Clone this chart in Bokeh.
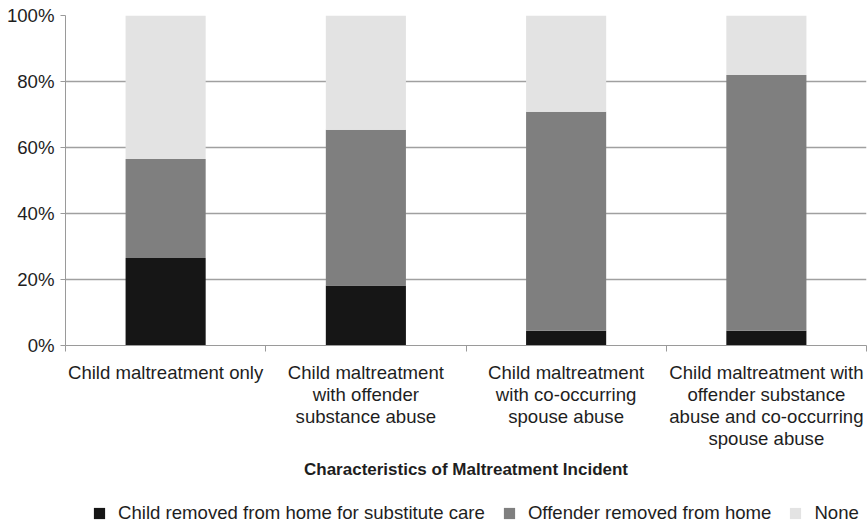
from bokeh.plotting import figure
from bokeh.layouts import column
from bokeh.models import (Range1d, FixedTicker, PrintfTickFormatter, Legend, LegendItem,
                          ColumnDataSource)
from bokeh.embed import file_html
from bokeh.resources import INLINE

categories = [
    "Child maltreatment only",
    "Child maltreatment\nwith offender\nsubstance abuse",
    "Child maltreatment\nwith co-occurring\nspouse abuse",
    "Child maltreatment with\noffender substance\nabuse and co-occurring\nspouse abuse",
]
series_names = ["Child removed from home for substitute care", "Offender removed from home", "None"]
child_removed = [26.5, 18.2, 4.5, 4.5]
offender_removed = [30.0, 47.2, 66.3, 77.5]
none_vals = [43.5, 34.6, 29.2, 18.0]
y_ticks = [0, 20, 40, 60, 80, 100]
colors = ["#161616", "#7f7f7f", "#e3e3e3"]

FONT = "Liberation Sans"
TXT = "#1e1e1e"
FS = "18.6px"

xc = [i + 0.5 for i in range(len(categories))]
src = ColumnDataSource(dict(x=xc, child=child_removed, offender=offender_removed, none=none_vals))

p = figure(frame_width=801, frame_height=330, output_backend="svg", toolbar_location=None,
           x_range=Range1d(0, 4), y_range=Range1d(0, 100),
           min_border_left=65, min_border_right=1, min_border_top=15, min_border_bottom=0)
p.outline_line_color = None
p.background_fill_color = "white"
p.border_fill_color = "white"

rs = p.vbar_stack(["child", "offender", "none"], x="x", width=0.4, source=src,
                  color=colors, line_color=None)

# y axis
ya = p.yaxis[0]
ya.ticker = FixedTicker(ticks=y_ticks)
ya.formatter = PrintfTickFormatter(format="%d%%")
ya.axis_line_color = "#9a9a9a"
ya.major_tick_line_color = "#9a9a9a"
ya.major_tick_out = 5
ya.major_tick_in = 0
ya.minor_tick_line_color = None
ya.major_label_text_font = FONT
ya.major_label_text_font_size = FS
ya.major_label_text_color = TXT
ya.major_label_standoff = 6

# x axis
xa = p.xaxis[0]
xa.ticker = FixedTicker(ticks=xc, minor_ticks=[0, 1, 2, 3, 4])
xa.major_label_overrides = {x: c for x, c in zip(xc, categories)}
xa.axis_line_color = "#9a9a9a"
xa.major_tick_line_color = None
xa.major_tick_out = 0
xa.major_tick_in = 0
xa.minor_tick_line_color = "#9a9a9a"
xa.minor_tick_out = 6
xa.minor_tick_in = 0
xa.major_label_text_font = FONT
xa.major_label_text_font_size = FS
xa.major_label_text_color = TXT
xa.major_label_text_line_height = 1.05
xa.major_label_standoff = 10
xa.axis_label = "Characteristics of Maltreatment Incident"
xa.axis_label_text_font = FONT
xa.axis_label_text_font_size = "17px"
xa.axis_label_text_font_style = "bold"
xa.axis_label_text_color = TXT
xa.axis_label_standoff = 8

p.xgrid.grid_line_color = None
p.ygrid.ticker = FixedTicker(ticks=y_ticks)
p.ygrid.grid_line_color = "#a0a0a0"
p.ygrid.grid_line_width = 1.3

# legend strip (separate figure so it sits right under the axis title)
pl = figure(frame_width=801, frame_height=43, output_backend="svg", toolbar_location=None,
            x_axis_type=None, y_axis_type=None,
            x_range=Range1d(0, 4), y_range=Range1d(0, 100),
            min_border_left=65, min_border_right=1, min_border_top=0, min_border_bottom=0)
pl.outline_line_color = None
pl.grid.visible = False
rl = pl.vbar_stack(["child", "offender", "none"], x="x", width=0.4, source=src,
                   color=colors, line_color=None)
for r in rl:
    r.visible = False

legend = Legend(items=[LegendItem(label=n, renderers=[r]) for n, r in zip(series_names, rl)],
                orientation="horizontal", location=(27, 0),
                glyph_width=14, glyph_height=14, label_standoff=12, spacing=17,
                label_text_font=FONT, label_text_font_size=FS, label_text_color=TXT,
                inactive_fill_alpha=0,
                border_line_color=None, background_fill_alpha=0, padding=0, margin=0)
pl.add_layout(legend, "center")

layout = column(p, pl, spacing=0)
open("out.html", "w").write(file_html(layout, INLINE))
